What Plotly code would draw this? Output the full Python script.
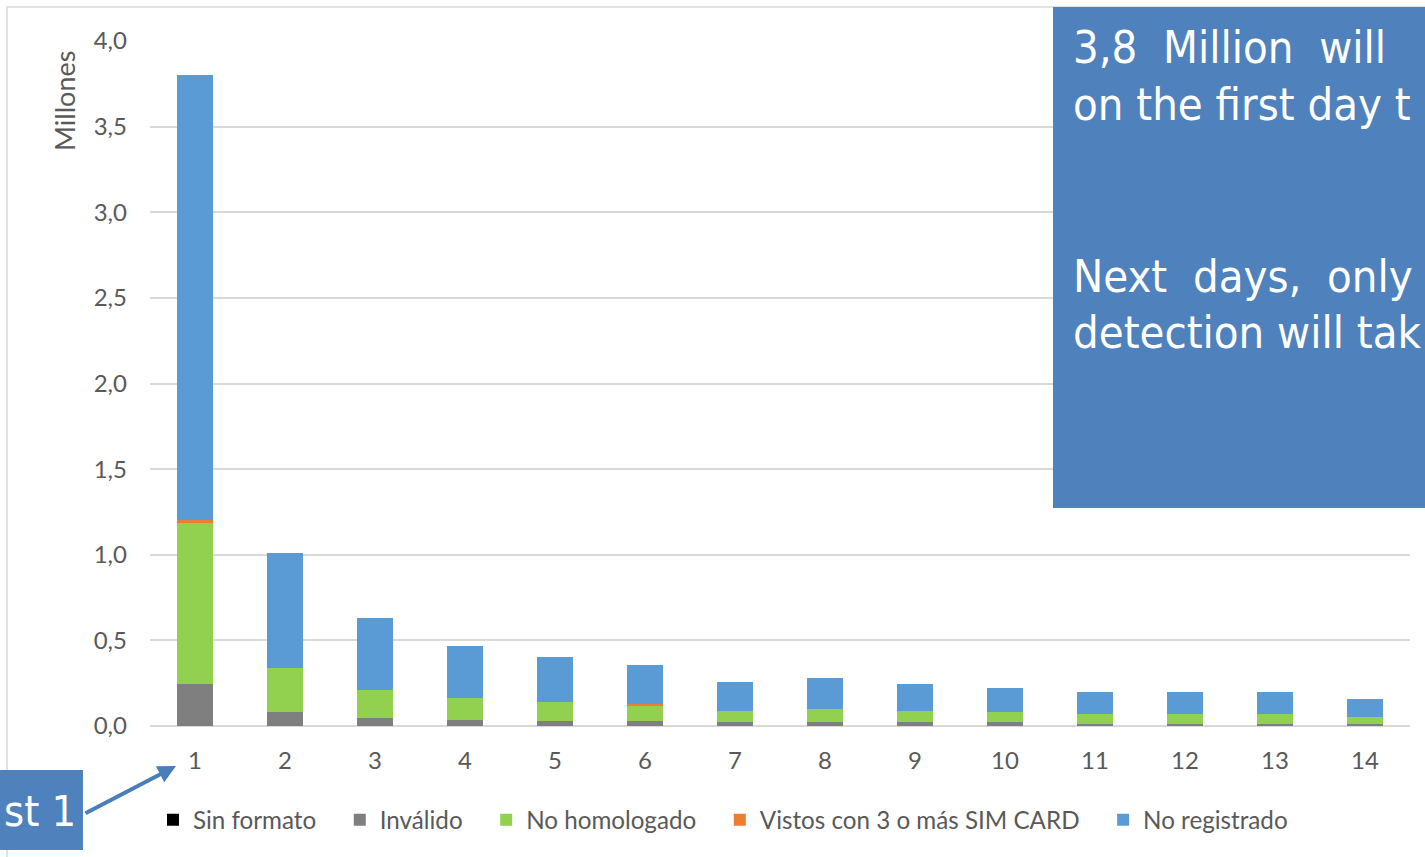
import plotly.graph_objects as go

days = list(range(1, 15))
sin_formato = [0.0] * 14
invalido = [0.247, 0.080, 0.047, 0.037, 0.029, 0.029, 0.021, 0.023, 0.022, 0.022, 0.014, 0.014, 0.014, 0.013]
no_homologado = [0.940, 0.257, 0.165, 0.125, 0.109, 0.091, 0.067, 0.074, 0.066, 0.058, 0.058, 0.058, 0.058, 0.041]
vistos_sim = [0.016, 0.0, 0.0, 0.0, 0.0, 0.010, 0.0, 0.0, 0.0, 0.0, 0.0, 0.0, 0.0, 0.0]
no_registrado = [2.597, 0.675, 0.417, 0.307, 0.267, 0.224, 0.167, 0.181, 0.159, 0.140, 0.125, 0.125, 0.125, 0.102]

series = [
    ("Sin formato", sin_formato, "#000000"),
    ("Inválido", invalido, "#7F7F7F"),
    ("No homologado", no_homologado, "#92D050"),
    ("Vistos con 3 o más SIM CARD", vistos_sim, "#ED7D31"),
    ("No registrado", no_registrado, "#5B9BD5"),
]

W, H = 1425, 857
L, R, T, B = 150, 1410, 41, 726


def xp(px):
    return (px - L) / (R - L)


def yp(py):
    return (B - py) / (B - T)


CHART_FONT = "Lato, Carlito, Calibri, sans-serif"
BOX_FONT = "DejaVu Sans Condensed, Tahoma, DejaVu Sans, sans-serif"
NB = "\u00a0"

fig = go.Figure()
for i, (name, vals, col) in enumerate(series):
    label = name + (NB * 3 if i < len(series) - 1 else "")
    fig.add_trace(go.Bar(x=days, y=vals, name=label, marker=dict(color=col, line=dict(width=0))))

fig.update_layout(
    width=W, height=H,
    margin=dict(l=L, r=W - R, t=T, b=H - B),
    barmode="stack",
    bargap=0.61,
    paper_bgcolor="white",
    plot_bgcolor="white",
    separators=",.",
    font=dict(family=CHART_FONT, size=24, color="#595959"),
    showlegend=True,
    legend=dict(
        orientation="h", x=xp(153), xanchor="left", y=yp(820), yanchor="middle",
        font=dict(family=CHART_FONT, size=24.2, color="#595959"),
        itemwidth=30, traceorder="normal", bgcolor="rgba(0,0,0,0)",
    ),
    xaxis=dict(
        range=[0.5, 14.5], tickmode="linear", dtick=1, showgrid=False,
        showline=False, zeroline=False, ticks="", ticklabelstandoff=18,
        tickfont=dict(family=CHART_FONT, size=24, color="#595959"),
    ),
    yaxis=dict(
        range=[0, 4.0], dtick=0.5, tickformat=".1f", showgrid=True,
        gridcolor="#D9D9D9", gridwidth=2, zeroline=True, zerolinecolor="#D9D9D9",
        zerolinewidth=2, showline=False, ticks="", ticklabelstandoff=22,
        tickfont=dict(family=CHART_FONT, size=24, color="#595959"),
    ),
)

# chart area border
fig.add_shape(type="rect", xref="paper", yref="paper",
              x0=xp(7), x1=xp(1440), y0=yp(880), y1=yp(7),
              line=dict(color="#D9D9D9", width=1.5), fillcolor="rgba(0,0,0,0)", layer="below")

# text box at upper right
fig.add_shape(type="rect", xref="paper", yref="paper",
              x0=xp(1053), x1=xp(1460), y0=yp(508), y1=yp(7),
              line=dict(width=0), fillcolor="#4F81BD", layer="above")
box_lines = [
    (f"3,8{NB}{NB}Million{NB}{NB}will", 48),
    ("on the first day t", 104),
    (f"Next{NB}{NB}days,{NB}{NB}only", 276),
    ("detection will tak", 332),
]
for txt, cy in box_lines:
    fig.add_annotation(xref="paper", yref="paper", x=xp(1071), y=yp(cy),
                       xanchor="left", yanchor="middle", align="left", showarrow=False,
                       text=txt, font=dict(family=BOX_FONT, size=45, color="white"))

# y axis title
fig.add_annotation(xref="paper", yref="paper", x=xp(64), y=yp(101),
                   xanchor="center", yanchor="middle", showarrow=False, textangle=-90,
                   text="Millones", font=dict(family=CHART_FONT, size=27, color="#595959"))

# bottom-left callout box
fig.add_shape(type="rect", xref="paper", yref="paper",
              x0=xp(-20), x1=xp(83), y0=yp(850), y1=yp(770),
              line=dict(width=0), fillcolor="#4F81BD", layer="above")
fig.add_annotation(xref="paper", yref="paper", x=xp(3), y=yp(811),
                   xanchor="left", yanchor="middle", showarrow=False, borderpad=0,
                   text="st 1", font=dict(family=BOX_FONT, size=43, color="white"))
fig.add_annotation(xref="paper", yref="paper", x=xp(176), y=yp(766),
                   axref="pixel", ayref="pixel", ax=-92, ay=48,
                   text="", showarrow=True, arrowhead=2, arrowsize=0.9, arrowwidth=4,
                   arrowcolor="#4A7EBB")

fig.write_html("out.html", config={"displayModeBar": False},
               post_script="document.body.style.margin='0';")
